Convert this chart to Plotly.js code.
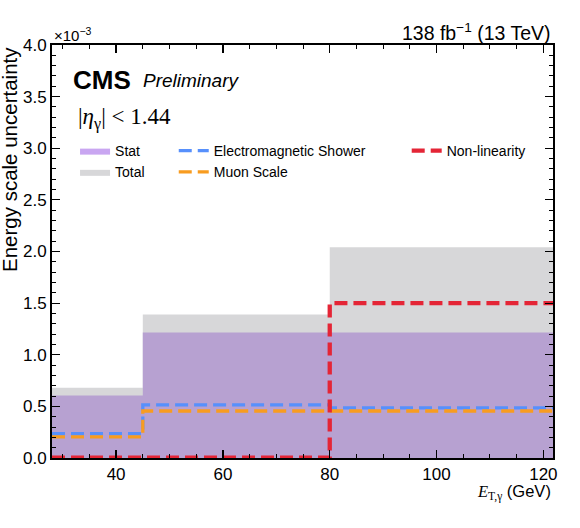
<!DOCTYPE html>
<html>
<head>
<meta charset="utf-8">
<script src="https://cdn.plot.ly/plotly-3.0.1.min.js"></script>
<style>html,body{margin:0;padding:0;background:#fff;}#chart{width:580px;height:528px;}</style>
</head>
<body>
<div id="chart"></div>
<script>
// Bin edges in E_T,gamma (GeV)
var binEdges = [28, 45, 80, 122];
// Uncertainties in units of 1e-3
var totalUnc = [0.68, 1.39, 2.04];
var statUnc = [0.605, 1.215, 1.215];
var emShowerUnc = [0.235, 0.515, 0.485];
var muonScaleUnc = [0.205, 0.455, 0.455];
var nonLinUnc = [0.003, 0.003, 1.50];
var yTickVals = [0, 0.5, 1.0, 1.5, 2.0, 2.5, 3.0, 3.5, 4.0];
var xTickVals = [40, 60, 80, 100, 120];

function stepY(v) { return v.concat([v[v.length - 1]]); }

var FONT = "Liberation Sans, Arial, Helvetica, sans-serif";

var traces = [
  {x: binEdges, y: stepY(totalUnc), mode: 'lines', line: {shape: 'hv', width: 0, color: '#d7d7d9'},
   fill: 'tozeroy', fillcolor: '#d7d7d9', showlegend: false, hoverinfo: 'skip'},
  {x: binEdges, y: stepY(statUnc), mode: 'lines', line: {shape: 'hv', width: 0, color: '#b7a1d1'},
   fill: 'tozeroy', fillcolor: '#b7a1d1', showlegend: false, hoverinfo: 'skip'},
  {x: binEdges, y: stepY(emShowerUnc), mode: 'lines', line: {shape: 'hv', width: 3.3, color: '#5790fc', dash: '13px,6px'},
   name: 'Electromagnetic Shower', legend: 'legend2', legendrank: 1},
  {x: binEdges, y: stepY(muonScaleUnc), mode: 'lines', line: {shape: 'hv', width: 3.3, color: '#f89c20', dash: '13px,6px'},
   name: 'Muon Scale', legend: 'legend2', legendrank: 2},
  {x: binEdges, y: stepY(nonLinUnc), mode: 'lines', line: {shape: 'hv', width: 4.3, color: '#e42536', dash: '13px,6px'},
   name: 'Non-linearity', legend: 'legend3'},
  // legend-only entries for the filled bands
  {x: [null], y: [null], mode: 'lines', fill: 'toself', fillcolor: '#c9a6f1', line: {width: 0, color: '#c9a6f1'},
   name: 'Stat', legend: 'legend', legendrank: 1},
  {x: [null], y: [null], mode: 'lines', fill: 'toself', fillcolor: '#d7d7d9', line: {width: 0, color: '#d7d7d9'},
   name: 'Total', legend: 'legend', legendrank: 2}
];

var legFont = {family: FONT, size: 14, color: '#000'};
var LEGY = 0.782;
var layout = {
  width: 580, height: 528,
  margin: {l: 52, r: 27, t: 45, b: 70},
  paper_bgcolor: '#fff', plot_bgcolor: '#fff',
  font: {family: FONT, size: 17, color: '#000'},
  xaxis: {
    range: [28, 121.8], tickvals: xTickVals, ticks: 'inside', ticklen: 8, tickwidth: 1.2, tickcolor: '#000',
    showline: true, linewidth: 2, linecolor: '#000', mirror: 'allticks', showgrid: false, zeroline: false,
    minor: {dtick: 5, tick0: 0, ticks: 'inside', ticklen: 4, tickwidth: 1, tickcolor: '#000', showgrid: false},
    tickfont: {family: FONT, size: 17}
  },
  yaxis: {
    range: [0, 4.0], tickvals: yTickVals, tickformat: '.1f', ticks: 'inside', ticklen: 8, tickwidth: 1.2, tickcolor: '#000',
    showline: true, linewidth: 2, linecolor: '#000', mirror: 'allticks', showgrid: false, zeroline: false,
    minor: {dtick: 0.1, tick0: 0, ticks: 'inside', ticklen: 4, tickwidth: 1, tickcolor: '#000', showgrid: false},
    tickfont: {family: FONT, size: 17}
  },
  legend: {x: 0.046, y: LEGY, xanchor: 'left', yanchor: 'top', bgcolor: 'rgba(0,0,0,0)', font: legFont, tracegroupgap: 0},
  legend2: {x: 0.243, y: LEGY, xanchor: 'left', yanchor: 'top', bgcolor: 'rgba(0,0,0,0)', font: legFont, tracegroupgap: 0},
  legend3: {x: 0.708, y: LEGY, xanchor: 'left', yanchor: 'top', bgcolor: 'rgba(0,0,0,0)', font: legFont, tracegroupgap: 0},
  annotations: [
    {xref: 'paper', yref: 'paper', x: 0, y: 1, xanchor: 'left', yanchor: 'bottom', xshift: 0, yshift: -1,
     text: '×10<sup>−3</sup>', showarrow: false, font: {family: FONT, size: 15}},
    {xref: 'paper', yref: 'paper', x: 1, y: 1, xanchor: 'right', yanchor: 'bottom', yshift: -1,
     text: '138 fb<sup>−1</sup> (13 TeV)', showarrow: false, font: {family: FONT, size: 19.5}},
    {xref: 'paper', yref: 'paper', x: 0.038, y: 0.957, xanchor: 'left', yanchor: 'top',
     text: '<b>CMS</b>', showarrow: false, font: {family: FONT, size: 26}},
    {xref: 'paper', yref: 'paper', x: 0.178, y: 0.944, xanchor: 'left', yanchor: 'top',
     text: '<i>Preliminary</i>', showarrow: false, font: {family: FONT, size: 19}},
    {xref: 'paper', yref: 'paper', x: 0.048, y: 0.862, xanchor: 'left', yanchor: 'top',
     text: '|<i>η</i><sub>γ</sub>| &lt; 1.44', showarrow: false, font: {family: 'Liberation Serif, DejaVu Serif, serif', size: 23}},
    {xref: 'paper', yref: 'paper', x: 0, y: 1, xanchor: 'right', yanchor: 'top', xshift: -29,
     text: 'Energy scale uncertainty', textangle: -90, showarrow: false, font: {family: FONT, size: 20.5}},
    {xref: 'paper', yref: 'paper', x: 1, y: 0, xanchor: 'right', yanchor: 'top', yshift: -22,
     text: '<span style="font-family:Liberation Serif, serif"><i>E</i><sub>T,γ</sub></span> (GeV)', showarrow: false, font: {family: FONT, size: 16.5}}
  ]
};

Plotly.newPlot('chart', traces, layout, {staticPlot: true, displayModeBar: false});
</script>
</body>
</html>
